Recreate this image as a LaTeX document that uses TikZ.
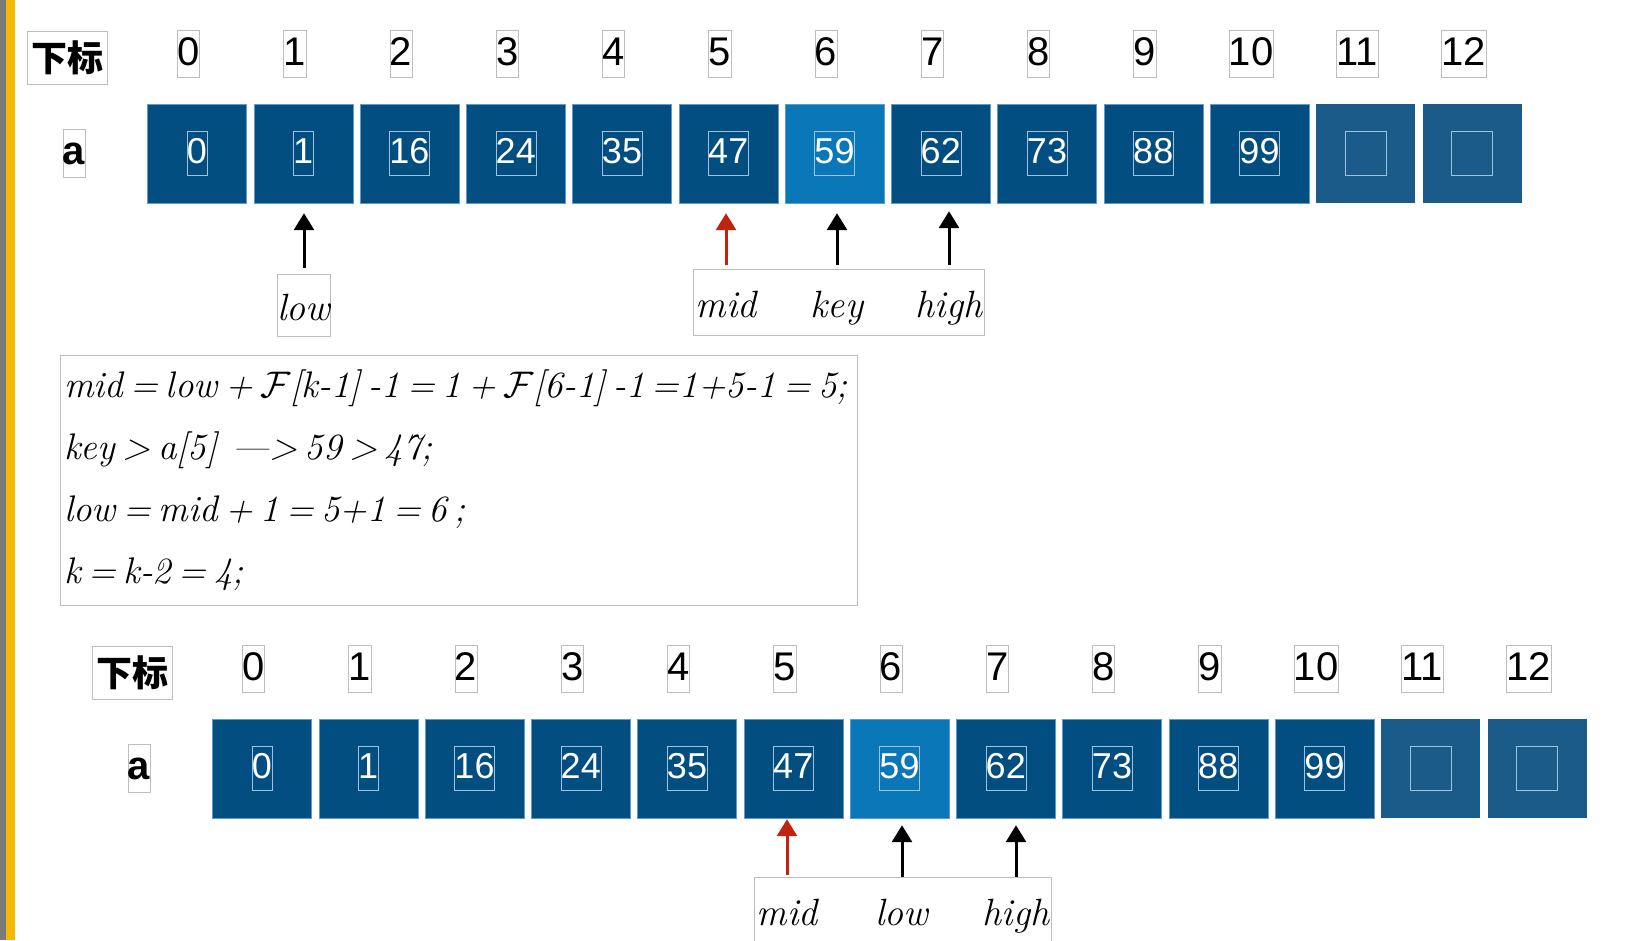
\RequirePackage{fix-cm}
\documentclass[tikz,border=0pt]{standalone}
\usepackage{fontspec}
\newfontfamily\numfont{Liberation Sans}
\newfontfamily\cjk{Noto Sans CJK SC}
\usetikzlibrary{arrows.meta, positioning, fit}

\definecolor{celldark}{HTML}{034E80}
\definecolor{cellkey}{HTML}{0A77B9}
\definecolor{cellfree}{HTML}{1B5B89}
\definecolor{celledge}{HTML}{5E9CCB}
\definecolor{numedge}{HTML}{9DC3E3}
\definecolor{frameg}{HTML}{BDBDBD}
\definecolor{ptrred}{HTML}{C0240F}
\definecolor{stripgray}{HTML}{7A7A7A}
\definecolor{stripyellow}{HTML}{F5B800}

\begin{document}
\begin{tikzpicture}[
    x=1pt, y=-1pt,
    every node/.style={inner sep=0pt},
    cjklabel/.style={draw=frameg, font=\cjk\bfseries\fontsize{36}{40}\selectfont, minimum width=80pt, minimum height=53pt},
    rowlabel/.style={draw=frameg, font=\numfont\bfseries\fontsize{40}{44}\selectfont, text height=35pt, text depth=13pt},
    index/.style={draw=frameg, font=\numfont\fontsize{40}{44}\selectfont, text height=35pt, text depth=12pt},
    cell/.style={draw=celledge, fill=celldark, minimum width=99pt, minimum height=99pt},
    keycell/.style={cell, fill=cellkey},
    freecell/.style={cell, draw=none, fill=cellfree},
    value/.style={draw=numedge, text=white, font=\numfont\fontsize{36}{40}\selectfont, text height=32pt, text depth=12pt},
    freevalue/.style={value, minimum width=41pt},
    word/.style={font=\itshape\fontsize{38}{40}\selectfont, text height=46pt, text depth=16pt, anchor=base},
    ptr/.style={-{Triangle[width=20pt,length=17pt]}, line width=3pt},
    redptr/.style={ptr, draw=ptrred, fill=ptrred}
]
    \useasboundingbox (0,0) rectangle (1638,940);

    % Left margin strips
    \fill[stripgray] (0,0) rectangle (6,940);
    \fill[stripyellow] (6,0) rectangle (15,940);

    % Upper array
    \node[cjklabel] (t_idx) at (67,57.5) {下标};
    \node[rowlabel] (t_a) at (74,153) {a};
    \foreach \i in {0,...,12}
        \node[index] (t_i\i) at (188.5+106.25*\i, 53.5) {\i};
    \foreach \v/\s/\t [count=\i from 0] in {0/cell/value, 1/cell/value, 16/cell/value, 24/cell/value, 35/cell/value, 47/cell/value, 59/keycell/value, 62/cell/value, 73/cell/value, 88/cell/value, 99/cell/value, {}/freecell/freevalue, {}/freecell/freevalue} {
        \node[\s] (t_c\i) at (197+106.25*\i, 153.5) {};
        \node[\t] (t_v\i) at (t_c\i) {\v};
    }

    % Upper pointers
    \node[word, draw=frameg] (t_low) at (304,320) {low};
    \node[word] (t_mid) at (726,317) {mid};
    \node[word] (t_key) at (837,317) {key};
    \node[word] (t_high) at (949,317) {high};
    \node[draw=frameg, inner sep=2pt, fit=(t_mid)(t_key)(t_high)] (t_ptrs) {};

    \draw[ptr, shorten <=6pt, shorten >=10pt] (t_low.north) -- (t_low.north |- t_c1.south);
    \draw[redptr, shorten <=6pt, shorten >=10pt] (t_mid.north) -- (t_mid.north |- t_c5.south);
    \draw[ptr, shorten <=6pt, shorten >=10pt] (t_key.north) -- (t_key.north |- t_c6.south);
    \draw[ptr, shorten <=6pt, shorten >=8pt] (t_high.north) -- (t_high.north |- t_c7.south);

    % Calculation step
    \node[draw=frameg, anchor=north west, align=left, text width=789pt, inner xsep=4pt, minimum height=250pt,
          font=\itshape\fontsize{37}{62}\selectfont] (calc) at (60,355)
        {\spaceskip=0.2em\relax
         mid = low + \(\mathcal{F}\)[k-1] -1 = 1 + \(\mathcal{F}\)[6-1] -1 =1+5-1 = 5;\\
         key > a[5] \ —> 59 > 47;\\
         low = mid + 1 = 5+1 = 6 ;\\
         k = k-2 = 4;};

    % Lower array
    \node[cjklabel] (b_idx) at (132,672.5) {下标};
    \node[rowlabel] (b_a) at (139,768) {a};
    \foreach \i in {0,...,12}
        \node[index] (b_i\i) at (253.5+106.25*\i, 668.5) {\i};
    \foreach \v/\s/\t [count=\i from 0] in {0/cell/value, 1/cell/value, 16/cell/value, 24/cell/value, 35/cell/value, 47/cell/value, 59/keycell/value, 62/cell/value, 73/cell/value, 88/cell/value, 99/cell/value, {}/freecell/freevalue, {}/freecell/freevalue} {
        \node[\s] (b_c\i) at (262+106.25*\i, 768.5) {};
        \node[\t] (b_v\i) at (b_c\i) {\v};
    }

    % Lower pointers
    \node[word] (b_mid) at (787,925) {mid};
    \node[word] (b_low) at (902,925) {low};
    \node[word] (b_high) at (1016,925) {high};
    \node[draw=frameg, inner sep=2pt, fit=(b_mid)(b_low)(b_high)] (b_ptrs) {};

    \draw[redptr, shorten <=4pt, shorten >=1pt] (b_mid.north) -- (b_mid.north |- b_c5.south);
    \draw[ptr, shorten <=2pt, shorten >=7pt] (b_low.north) -- (b_low.north |- b_c6.south);
    \draw[ptr, shorten <=2pt, shorten >=7pt] (b_high.north) -- (b_high.north |- b_c7.south);
\end{tikzpicture}
\end{document}
